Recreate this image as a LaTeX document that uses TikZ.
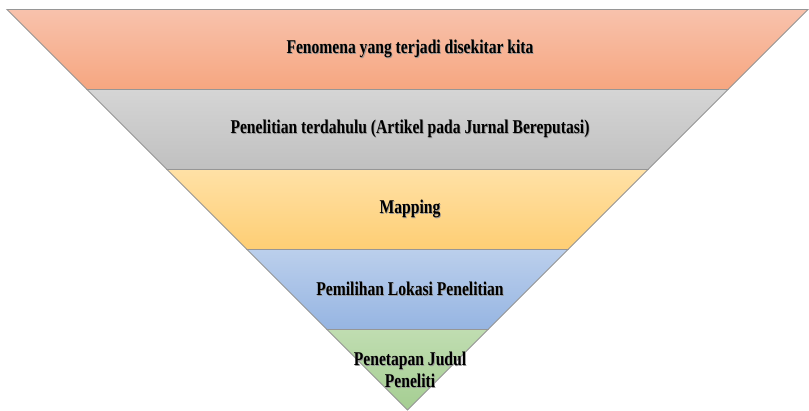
\documentclass[tikz,border=0pt]{standalone}
\usepackage{fontspec}
\setmainfont{Liberation Serif}
\newfontfamily\bandfont[FakeStretch=0.8]{Liberation Serif}
\usepackage{tikz}
\usetikzlibrary{positioning}

\definecolor{orangeT}{RGB}{248,194,172}
\definecolor{orangeB}{RGB}{246,166,128}
\definecolor{grayT}{RGB}{213,213,213}
\definecolor{grayB}{RGB}{192,192,192}
\definecolor{yellowT}{RGB}{255,225,166}
\definecolor{yellowB}{RGB}{254,206,116}
\definecolor{blueT}{RGB}{187,207,236}
\definecolor{blueB}{RGB}{150,181,226}
\definecolor{greenT}{RGB}{192,221,177}
\definecolor{greenB}{RGB}{165,206,146}
\definecolor{edgegray}{RGB}{150,150,150}

% text with a soft drop shadow
\newcommand{\shtext}[1]{\makebox[0pt][l]{\hspace{0.8pt}\raisebox{-0.8pt}{\color{black!40}#1}}#1}

\tikzset{
  band/.style={draw=edgegray,line width=0.9pt},
  lbl/.style={font=\bandfont\bfseries\fontsize{19.5}{22}\selectfont,align=center,inner sep=0pt}
}

\begin{document}
\begin{tikzpicture}[x=1pt,y=-1pt]
  \useasboundingbox (0,0) rectangle (809,410);
  % bands, top to bottom
  \shade[band,top color=orangeT,bottom color=orangeB] (7,9.5) -- (808,9.5) -- (728,89.5) -- (87,89.5) -- cycle;
  \shade[band,top color=grayT,bottom color=grayB] (87,89.5) -- (728,89.5) -- (648,169.5) -- (167,169.5) -- cycle;
  \shade[band,top color=yellowT,bottom color=yellowB] (167,169.5) -- (648,169.5) -- (568,249.5) -- (247,249.5) -- cycle;
  \shade[band,top color=blueT,bottom color=blueB] (247,249.5) -- (568,249.5) -- (488,329.5) -- (327,329.5) -- cycle;
  \shade[band,top color=greenT,bottom color=greenB] (327,329.5) -- (488,329.5) -- (407.5,410) -- cycle;
  % labels
  \node(fenomena)[lbl] at (410,49.5) {\shtext{Fenomena yang terjadi disekitar kita}};
  \node(terdahulu)[lbl] at (410,129.5) {\shtext{Penelitian terdahulu (Artikel pada Jurnal Bereputasi)}};
  \node(mapping)[lbl] at (410,209.5) {\shtext{Mapping}};
  \node(lokasi)[lbl] at (410,289.5) {\shtext{Pemilihan Lokasi Penelitian}};
  \node(judul)[lbl] at (410,370) {\shtext{Penetapan Judul}\\\shtext{Peneliti}};
\end{tikzpicture}
\end{document}
